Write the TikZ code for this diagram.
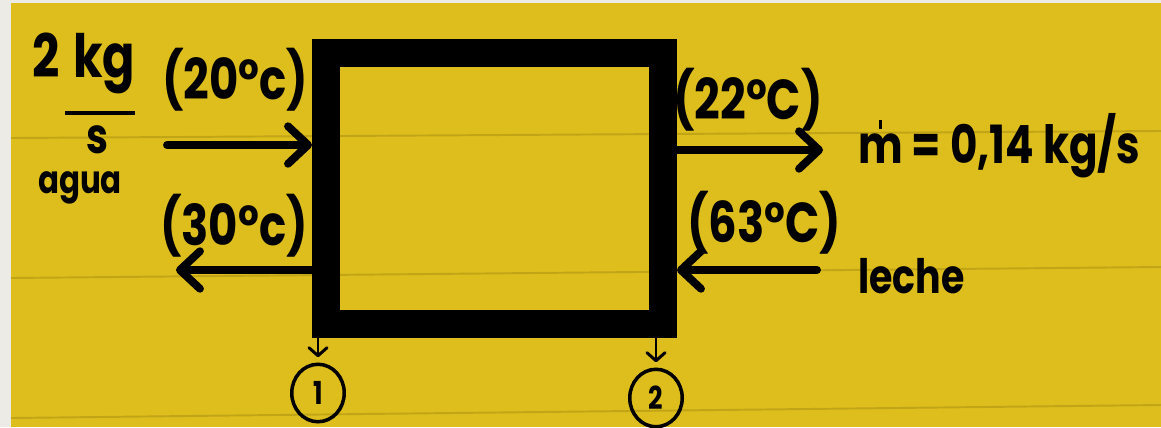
\documentclass[tikz,border=0pt]{standalone}
\usepackage{fontspec}
\setmainfont{Poppins}[FakeStretch=0.8]
\usetikzlibrary{arrows.meta, shapes.geometric, calc, positioning}
\definecolor{Paper}    {HTML}{DDBE1D}
\definecolor{PaperLine}{HTML}{C2A517}
\definecolor{Margin}   {HTML}{EDEBE6}
\newcommand{\mdotsym}{\ooalign{m\cr\hidewidth\raisebox{0.64em}{\rule{2pt}{5pt}}\hidewidth\cr}}

\begin{document}
\begin{tikzpicture}[
  x=0.02cm, y=-0.02cm,
  every node/.style={font=\bfseries},
  wall/.style={draw=black, line width=16pt, minimum width=6.74cm, minimum height=5.42cm, inner sep=0pt},
  flow/.style={line width=4.5pt, line cap=round, -{Straight Barb[length=4mm, width=7.5mm, round]}},
  tick/.style={line width=1.7pt, -{Straight Barb[length=1.6mm, width=3.6mm, round]}},
  stn/.style={ellipse, draw, line width=2pt, minimum width=1.05cm, minimum height=1.15cm, inner sep=0pt,
              font=\fontsize{18}{18}\selectfont\bfseries},
  lbl/.style={font=\fontsize{32}{34}\selectfont\bfseries, anchor=base, inner sep=0pt},
  big/.style={font=\fontsize{34}{36}\selectfont\bfseries, anchor=base, inner sep=0pt},
  paperline/.style={draw=PaperLine, line width=1.1pt}
]
  % paper and margin
  \fill[Margin] (0,0) rectangle (1161,427);
  \fill[Paper] (11,3) rectangle (1161,427);
  \useasboundingbox (0,0) rectangle (1161,427);
  \draw[paperline] (11,138) -- (1161,131);
  \draw[paperline] (11,278) -- (1161,267);
  \draw[paperline] (11,418) -- (1161,405);

  % the exchanger
  \node[wall] (hx) at (494.5,188.5) {};

  % agua side
  \node[big] (two) at (46,77) {2};
  \node[big] (kg) at (104,77) {kg};
  \coordinate (barL) at (65,113);
  \draw[line width=2.8pt] (barL) -- ++(70,0);
  \node[lbl, font=\fontsize{28}{30}\selectfont\bfseries] (sec) at (97,153) {s};
  \node[lbl, font=\fontsize{22}{24}\selectfont\bfseries] (agua) at (80,193) {agua};

  \coordinate (aguaIn) at (167,145);
  \draw[flow] (aguaIn) -- (aguaIn -| hx.west);
  \node[lbl] (tAguaIn) at (235,99) {(20°c)};

  \coordinate (aguaOut) at (176,270);
  \draw[flow] (aguaOut -| hx.west) -- (aguaOut);
  \node[lbl] (tAguaOut) at (234,245) {(30°c)};

  % leche side
  \coordinate (lecheOut) at (823,150);
  \draw[flow] (lecheOut -| hx.east) -- (lecheOut);
  \node[lbl] (tLecheOut) at (748,119) {(22°C)};
  \node[lbl, anchor=base west, font=\fontsize{30}{32}\selectfont\bfseries] (mflow) at (858,163) {\mdotsym\ = 0,14 kg/s};

  \coordinate (lecheIn) at (817,270);
  \draw[flow] (lecheIn) -- (lecheIn -| hx.east);
  \node[lbl] (tLecheIn) at (764,242) {(63°C)};
  \node[lbl, anchor=base west, font=\fontsize{27}{29}\selectfont\bfseries] (leche) at (858,293) {leche};

  % stations
  \node[stn] (st1) at (318,393) {1};
  \node[stn] (st2) at (656,398) {2};
  \draw[tick, shorten <=-4pt, shorten >=3pt] (st1 |- hx.south) -- (st1.north);
  \draw[tick, shorten <=-4pt, shorten >=3pt] (st2 |- hx.south) -- (st2.north);
\end{tikzpicture}
\end{document}
